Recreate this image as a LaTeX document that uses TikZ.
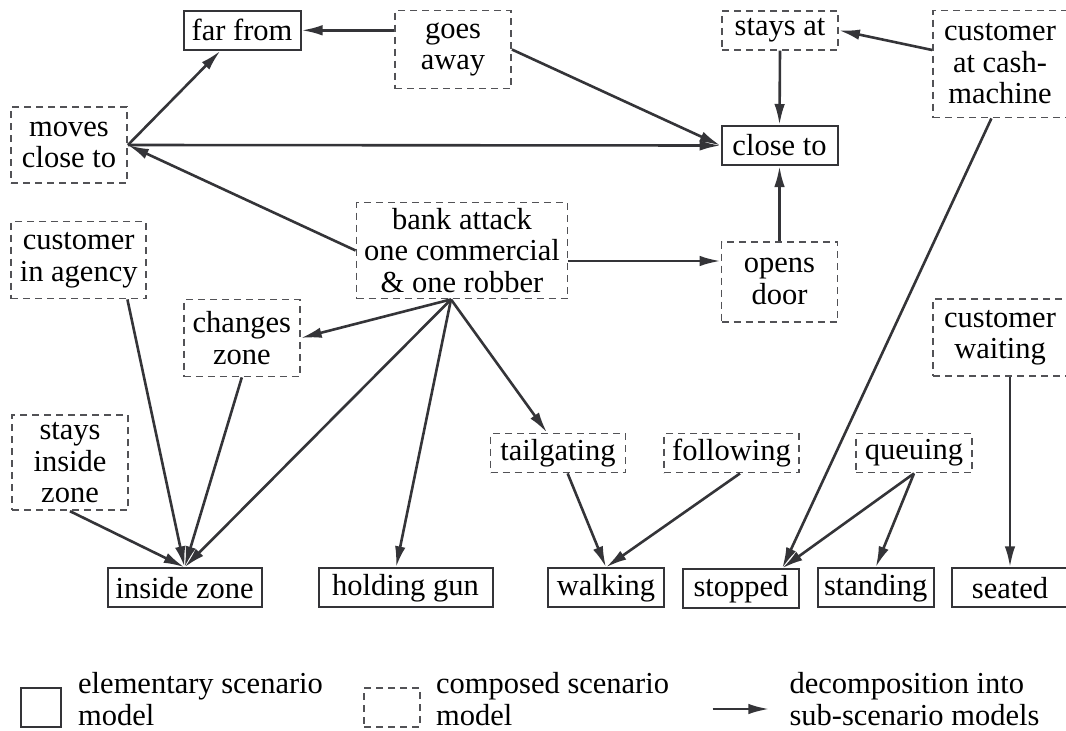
\documentclass[tikz,border=0pt]{standalone}
\usepackage{fontspec}
\setmainfont{Liberation Serif}
\usetikzlibrary{arrows.meta}
\definecolor{ink}{RGB}{52,52,56}
\begin{document}
\begin{tikzpicture}[x=1pt,y=-1pt,
  every node/.style={font=\rmfamily\fontsize{30.5}{31.5}\selectfont, align=center, inner sep=0pt, text=black},
  elem/.style={draw=ink, line width=2pt, minimum height=39pt},
  comp/.style={draw=ink!85, line width=1.8pt, dash pattern=on 7pt off 5pt},
  arr/.style={draw=ink, line width=2.6pt, -{Latex[length=21pt,width=10.5pt]}}]
\useasboundingbox (0,0) rectangle (1066,731);

\node[elem, minimum width=117pt] (farfrom) at (242,30.3) {far from};
\node[comp, minimum width=116pt, minimum height=78pt] (goesaway) at (453,49.5) {goes\\away};
\node[comp, minimum width=116pt, minimum height=39pt] (staysat) at (780,30.3) {stays at};
\node[comp, minimum width=134pt, minimum height=107pt] (cashm) at (1000,64) {customer\\at cash-\\machine};
\node[comp, minimum width=116pt, minimum height=76pt] (moves) at (69,145) {moves\\close to};
\node[elem, minimum width=116pt] (closeto) at (779.5,145.5) {close to};
\node[comp, minimum width=211pt, minimum height=96pt] (bank) at (462,250.5) {bank attack\\one commercial\\\& one robber};
\node[comp, minimum width=116pt, minimum height=80pt] (opens) at (779.5,281.7) {opens\\door};
\node[comp, minimum width=135pt, minimum height=77pt] (custag) at (78.7,260) {customer\\in agency};
\node[comp, minimum width=116pt, minimum height=77pt] (changes) at (241.8,338) {changes\\zone};
\node[comp, minimum width=134pt, minimum height=77pt] (custwait) at (1000,337.7) {customer\\waiting};
\node[comp, minimum width=116pt, minimum height=95pt] (staysin) at (70,462.8) {stays\\inside\\zone};
\node[comp, minimum width=135pt, minimum height=39pt] (tail) at (558,453) {tailgating};
\node[comp, minimum width=135pt, minimum height=39pt] (follow) at (731.5,453) {following};
\node[comp, minimum width=116pt, minimum height=39pt] (queue) at (914,453) {queuing};
\node[elem, minimum width=154pt] (inside) at (184.6,587.8) {inside zone};
\node[elem, minimum width=174pt] (gun) at (405.5,587.8) {holding gun};
\node[elem, minimum width=116pt] (walking) at (606,587.8) {walking};
\node[elem, minimum width=116pt] (stopped) at (741,588.8) {stopped};
\node[elem, minimum width=116pt] (standing) at (875.7,587.8) {standing};
\node[elem, minimum width=116pt] (seated) at (1010,587.8) {seated};

\draw[arr] (goesaway.west |- farfrom.east) -- (farfrom.east);
\draw[arr] (goesaway.east) -- (closeto.west);
\draw[arr] (moves.east) -- ([xshift=-21.6pt]farfrom.south);
\draw[arr] (moves.east) -- (closeto.west);
\draw[arr] (bank.west) -- (moves.east);
\draw[arr] ([yshift=-10.5pt]bank.east) -- ([yshift=20.7pt]opens.west);
\draw[arr] (opens.north) -- (closeto.south);
\draw[arr] (staysat.south) -- (closeto.north);
\draw[arr] ([yshift=14pt]cashm.west) -- (staysat.east);
\draw[arr] ([xshift=-8.6pt]cashm.south) -- ([xshift=-17.8pt]stopped.north east);
\coordinate (bk) at ([xshift=-11pt]bank.south);
\draw[arr] (bk) -- (changes.east);
\draw[arr] (bk) -- (inside.north);
\draw[arr] (bk) -- ([xshift=-9.5pt]gun.north);
\draw[arr] (bk) -- ([xshift=-11pt]tail.north);
\draw[arr] ([xshift=48.7pt]custag.south) -- (inside.north);
\draw[arr] (changes.south) -- (inside.north);
\draw[arr] (staysin.south) -- (inside.north);
\draw[arr] ([xshift=9.6pt]tail.south) -- (walking.north);
\draw[arr] ([xshift=8.5pt]follow.south) -- (walking.north);
\draw[arr] (queue.south) -- ([xshift=-17.8pt]stopped.north east);
\draw[arr] (queue.south) -- (standing.north);
\draw[arr] ([xshift=10pt]custwait.south) -- (seated.north);

\node[elem, minimum width=40pt, minimum height=39pt] (lgelem) at (40.7,707.5) {};
\node[anchor=west, align=left] (lgelemt) at (78,699) {elementary scenario\\model};
\node[comp, minimum width=56pt, minimum height=39pt] (lgcomp) at (392,707.5) {};
\node[anchor=west, align=left] (lgcompt) at (436,699) {composed scenario\\model};
\coordinate (la) at (712.7,709);
\coordinate (lb) at (769.3,709);
\draw[arr] (la) -- (lb);
\node[anchor=west, align=left] (lgarrt) at (789.3,699) {decomposition into\\sub-scenario models};
\end{tikzpicture}
\end{document}
